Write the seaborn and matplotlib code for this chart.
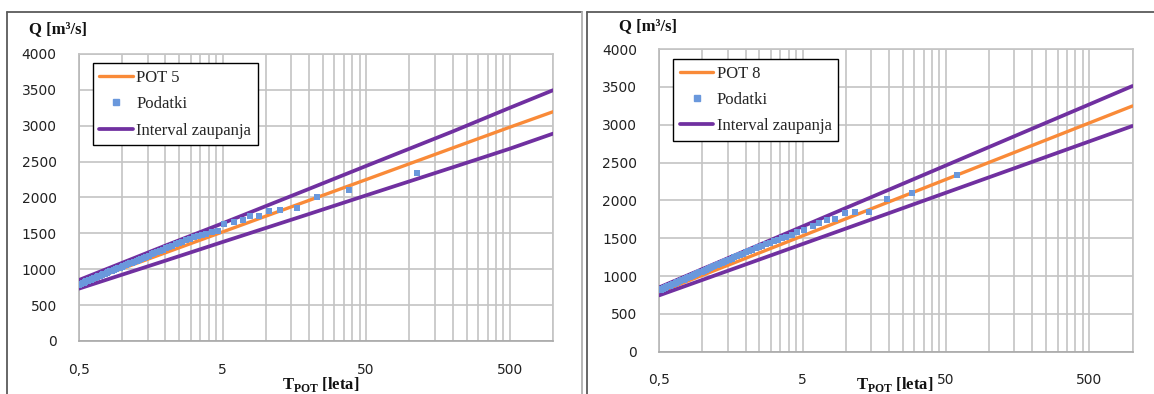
import matplotlib
matplotlib.use("Agg")
import matplotlib.pyplot as plt
from matplotlib.lines import Line2D
from matplotlib.ticker import FixedLocator, FixedFormatter, NullFormatter
import seaborn as sns
import pandas as pd

# ---------------- data ----------------
line_T = [0.5, 1, 2, 5, 10, 20, 50, 100, 200, 500, 1000]

pot5_fit = [790, 1010, 1230, 1520, 1740, 1960, 2250, 2470, 2690, 2980, 3195]
pot5_upper = [850, 1090, 1330, 1640, 1880, 2120, 2440, 2680, 2920, 3250, 3495]
pot5_lower = [730, 925, 1120, 1380, 1575, 1770, 2030, 2225, 2420, 2680, 2890]

pot8_fit = [785, 1010, 1234, 1531, 1756, 1980, 2277, 2502, 2726, 3023, 3247]
pot8_upper = [850, 1093, 1335, 1656, 1899, 2141, 2462, 2705, 2948, 3268, 3511]
pot8_lower = [745, 949, 1153, 1423, 1627, 1831, 2101, 2305, 2509, 2779, 2983]

pts_T_dense = [0.50, 0.51, 0.52, 0.53, 0.54, 0.55, 0.56, 0.575, 0.59, 0.605,
               0.62, 0.635, 0.65, 0.665, 0.68, 0.70, 0.72, 0.74, 0.76, 0.78,
               0.80, 0.825, 0.85, 0.875, 0.90, 0.93, 0.96, 0.99, 1.02, 1.055,
               1.09, 1.13, 1.17, 1.21, 1.26, 1.31, 1.36, 1.41, 1.47, 1.53,
               1.60, 1.67, 1.75, 1.83, 1.92, 2.02, 2.12, 2.23, 2.35, 2.48,
               2.62, 2.78, 2.95, 3.15, 3.35, 3.6, 3.85, 4.2]

pot5_Q_dense = [785, 792, 800, 808, 815, 822, 830, 839, 848, 857,
                866, 875, 883, 892, 900, 910, 920, 930, 940, 949,
                958, 969, 980, 990, 1000, 1011, 1022, 1034, 1045, 1057,
                1068, 1081, 1093, 1107, 1120, 1134, 1148, 1162, 1176, 1191,
                1206, 1223, 1240, 1258, 1275, 1293, 1310, 1328, 1345, 1365,
                1385, 1405, 1425, 1443, 1460, 1478, 1495, 1520]

pot8_Q_dense = [810, 818, 826, 833, 840, 847, 854, 863, 872, 881,
                890, 899, 907, 916, 924, 934, 944, 954, 964, 973,
                982, 993, 1004, 1015, 1025, 1036, 1047, 1059, 1070, 1082,
                1093, 1106, 1118, 1132, 1145, 1159, 1173, 1187, 1200, 1215,
                1230, 1247, 1263, 1280, 1297, 1314, 1330, 1348, 1365, 1384,
                1402, 1421, 1440, 1459, 1478, 1497, 1515, 1545]

pot5_T_top = [4.63, 5.15, 6.0, 6.9, 7.8, 9.0, 10.6, 12.6, 16.6, 22.9, 38.1, 113]
pot5_Q_top = [1537, 1631, 1654, 1686, 1738, 1742, 1815, 1830, 1850, 2011, 2100, 2341]

pot8_T_top = [4.57, 5.08, 5.87, 6.5, 7.4, 8.4, 9.8, 11.6, 14.5, 19.4, 29.1, 59.4]
pot8_Q_top = [1578, 1608, 1661, 1697, 1740, 1750, 1829, 1840, 1845, 2021, 2097, 2335]

x_major = [0.5, 5, 50, 500]
x_major_labels = ["0,5", "5", "50", "500"]
y_ticks = [0, 500, 1000, 1500, 2000, 2500, 3000, 3500, 4000]

legend_labels_left = ["POT 5", "Podatki", "Interval zaupanja"]
legend_labels_right = ["POT 8", "Podatki", "Interval zaupanja"]

# ---------------- style ----------------
sns.set_style("white")
plt.rcParams["font.family"] = ["DejaVu Sans"]
plt.rcParams["mathtext.fontset"] = "custom"
plt.rcParams["mathtext.bf"] = "Liberation Serif:bold"
plt.rcParams["mathtext.rm"] = "Liberation Serif"

ORANGE = "#F98A38"
PURPLE = "#7030A0"
BLUE = "#6A98DC"
GRID = "#C4C4C4"

W, H = 1154, 394
fig = plt.figure(figsize=(W / 100, H / 100), dpi=100)

# minor grid positions of an Excel-style log axis starting at 0.5
minor_pos = []
for base in [0.5, 5, 50, 500]:
    for k in range(1, 11):
        minor_pos.append(base * k)
minor_pos = sorted(set(minor_pos))


def panel(rect, fit, upper, lower, pts_T, pts_Q, labels, leg_anchor, tick_pad_x, qpos, tpos):
    ax = fig.add_axes(rect)
    df_lines = pd.DataFrame({"T": line_T, "fit": fit, "up": upper, "lo": lower})
    df_pts = pd.DataFrame({"T": pts_T, "Q": pts_Q})
    sns.lineplot(data=df_lines, x="T", y="fit", ax=ax, color=ORANGE, linewidth=2.4, zorder=3)
    sns.lineplot(data=df_lines, x="T", y="up", ax=ax, color=PURPLE, linewidth=2.7, zorder=4)
    sns.lineplot(data=df_lines, x="T", y="lo", ax=ax, color=PURPLE, linewidth=2.7, zorder=4)
    sns.scatterplot(data=df_pts, x="T", y="Q", ax=ax, color=BLUE, marker="s", s=18,
                    linewidth=0, zorder=5)
    ax.set_xscale("log")
    ax.set_xlim(0.5, 1000)
    ax.set_ylim(0, 4000)
    ax.xaxis.set_major_locator(FixedLocator(x_major))
    ax.xaxis.set_major_formatter(FixedFormatter(x_major_labels))
    ax.xaxis.set_minor_locator(FixedLocator(minor_pos))
    ax.xaxis.set_minor_formatter(NullFormatter())
    ax.set_yticks(y_ticks)
    ax.set_yticklabels([str(v) for v in y_ticks])
    ax.grid(True, which="both", axis="x", color=GRID, linewidth=1.2)
    ax.grid(True, which="major", axis="y", color=GRID, linewidth=1.2)
    ax.set_axisbelow(True)
    for s in ax.spines.values():
        s.set_color(GRID)
        s.set_linewidth(1.2)
    ax.spines["bottom"].set_color("#A8A8A8")
    ax.spines["left"].set_color("#B8B8B8")
    ax.tick_params(axis="x", which="major", length=5, width=1, color="#A8A8A8",
                   direction="out", pad=tick_pad_x, labelsize=10, labelcolor="#222222")
    ax.tick_params(axis="x", which="minor", length=0)
    ax.tick_params(axis="y", which="major", length=0, pad=16, labelsize=10, labelcolor="#222222")
    ax.set_xlabel("")
    ax.set_ylabel("")

    handles = [
        Line2D([], [], color=ORANGE, linewidth=2.4),
        Line2D([], [], color=BLUE, marker="s", markersize=3.8, linestyle="none"),
        Line2D([], [], color=PURPLE, linewidth=2.7),
    ]
    leg = ax.legend(handles, labels, loc="upper left", bbox_to_anchor=leg_anchor,
                    borderaxespad=0, frameon=True, fancybox=False, framealpha=1,
                    edgecolor="black", handlelength=2.0, handletextpad=0.2,
                    labelspacing=0.62, borderpad=0.4,
                    prop={"family": "Liberation Serif", "size": 12})
    leg.get_frame().set_linewidth(1.0)
    leg.set_zorder(10)

    fig.text(qpos[0] / W, 1 - qpos[1] / H, "Q [m³/s]", family="Liberation Serif",
             weight="bold", size=12, ha="left", va="center", color="#111111")
    fig.text(tpos[0] / W, 1 - tpos[1] / H, r"$\mathbf{T}_{\mathbf{POT}}$ [leta]",
             family="Liberation Serif", weight="bold", size=12, ha="center",
             va="center", color="#111111")
    return ax


# left panel: plot area x 79..553, y 54..341
panel([79 / W, (H - 341) / H, 474 / W, 287 / H], pot5_fit, pot5_upper, pot5_lower,
      pts_T_dense + pot5_T_top, pot5_Q_dense + pot5_Q_top, legend_labels_left,
      (0.029, 0.968), 10.5, (29, 29), (321, 384))
# right panel: plot area x 659..1132, y 49..352
panel([659.3 / W, (H - 351.7) / H, 473.2 / W, 302.7 / H], pot8_fit, pot8_upper, pot8_lower,
      pts_T_dense + pot8_T_top, pot8_Q_dense + pot8_Q_top, legend_labels_right,
      (0.030, 0.967), 10, (619, 26), (895, 384))

# chart frames
def fline(x0, y0, x1, y1, color, lw):
    fig.add_artist(Line2D([x0 / W, x1 / W], [1 - y0 / H, 1 - y1 / H], color=color,
                          linewidth=lw, transform=fig.transFigure))

fline(7, 12, 582, 12, "#5A5A5A", 1.3)
fline(7, 12, 7, 394, "#5A5A5A", 1.3)
fline(582, 12, 582, 394, "#B0B0B0", 1.3)
fline(587, 12, 1154, 12, "#5A5A5A", 1.3)
fline(587, 12, 587, 394, "#5A5A5A", 1.3)

fig.savefig("out.png", dpi=100, facecolor="white")
